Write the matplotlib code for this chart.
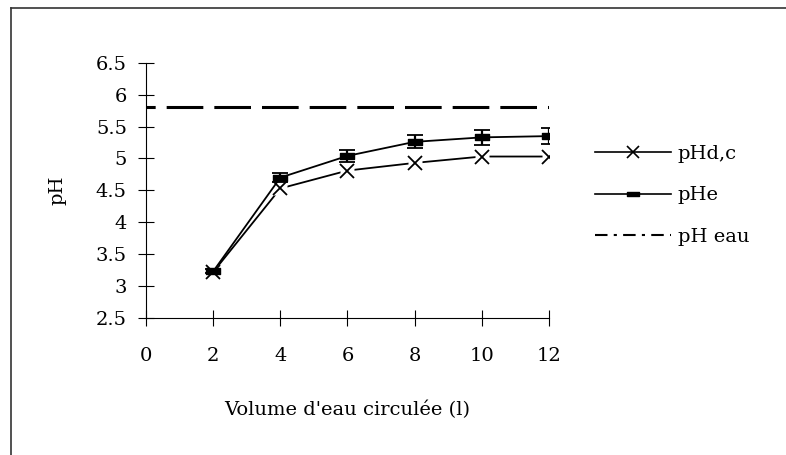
import matplotlib
matplotlib.use("Agg")
import matplotlib.pyplot as plt
from matplotlib.path import Path
import matplotlib.lines as mlines

plt.rcParams['font.family'] = ['DejaVu Serif']

volume = [2, 4, 6, 8, 10, 12]
ph_dc = [3.22, 4.53, 4.81, 4.93, 5.03, 5.03]
ph_e = [3.23, 4.70, 5.04, 5.26, 5.33, 5.35]
ph_e_err = [0.03, 0.07, 0.09, 0.10, 0.12, 0.12]
ph_eau = 5.80
x_ticks = [0, 2, 4, 6, 8, 10, 12]
y_ticks = [2.5, 3, 3.5, 4, 4.5, 5, 5.5, 6, 6.5]

W, H = 786, 455
fig = plt.figure(figsize=(W / 100, H / 100), dpi=100)
ax = fig.add_axes([146 / W, 1 - 318 / H, (549 - 146) / W, (318 - 62.7) / H])

FS = 14
rect = Path([(-1, -0.38), (1, -0.38), (1, 0.38), (-1, 0.38), (-1, -0.38)],
            [Path.MOVETO, Path.LINETO, Path.LINETO, Path.LINETO, Path.CLOSEPOLY])

# pH eau reference line
ax.plot([0, 12], [ph_eau, ph_eau], color='black', lw=2.2,
        linestyle=(9, (12, 3.6)), solid_capstyle='butt', dash_capstyle='butt')

# pHd,c
ax.plot(volume, ph_dc, color='black', lw=1.3, zorder=3)
ax.plot(volume, ph_dc, linestyle='none', marker='s', ms=10, mfc='white', mec='none', zorder=4)
ax.plot(volume, ph_dc, linestyle='none', marker='x', ms=10, mew=1.3, color='black', zorder=5)

# pHe
ax.errorbar(volume, ph_e, yerr=ph_e_err, color='black', lw=1.3, elinewidth=1.6,
            capsize=5.8, capthick=1.3, marker=rect, ms=10, zorder=6)

ax.set_xlim(0, 12)
ax.set_ylim(2.5, 6.5)
ax.set_xticks(x_ticks)
ax.set_yticks(y_ticks)
ax.set_yticklabels([('%g' % v) for v in y_ticks])
for s in ['top', 'right']:
    ax.spines[s].set_visible(False)
for s in ['left', 'bottom']:
    ax.spines[s].set_linewidth(0.8)
ax.tick_params(direction='inout', length=11.5, width=0.8, labelsize=FS)
ax.tick_params(axis='y', pad=8)
ax.tick_params(axis='x', pad=15)

ax.set_xlabel("Volume d'eau circulée (l)", fontsize=FS, labelpad=26)
ax.set_ylabel("pH", fontsize=FS, labelpad=21)

# legend
h1 = mlines.Line2D([], [], color='black', lw=1.2, marker='x', ms=8, mew=1.2)
h2 = mlines.Line2D([], [], color='black', lw=1.2, marker=rect, ms=9)
h3 = mlines.Line2D([], [], color='black', lw=1.5, linestyle=(0, (6, 3, 1.5, 3)))
leg = fig.legend([h1, h2, h3], ['pHd,c', 'pHe', 'pH eau'], loc='upper left',
                 bbox_to_anchor=(595 / W, 1 - 145 / H), frameon=False, fontsize=FS,
                 handlelength=3.9, handletextpad=0.35, labelspacing=1.2,
                 borderpad=0, borderaxespad=0)

# outer frame (left and top edges visible)
fig.add_artist(mlines.Line2D([11 / W, 11 / W], [0, 1 - 8 / H], color='#333333', lw=1.2,
                             transform=fig.transFigure))
fig.add_artist(mlines.Line2D([11 / W, 1], [1 - 8 / H, 1 - 8 / H], color='#333333', lw=1.2,
                             transform=fig.transFigure))

fig.savefig('out.png', dpi=100)
